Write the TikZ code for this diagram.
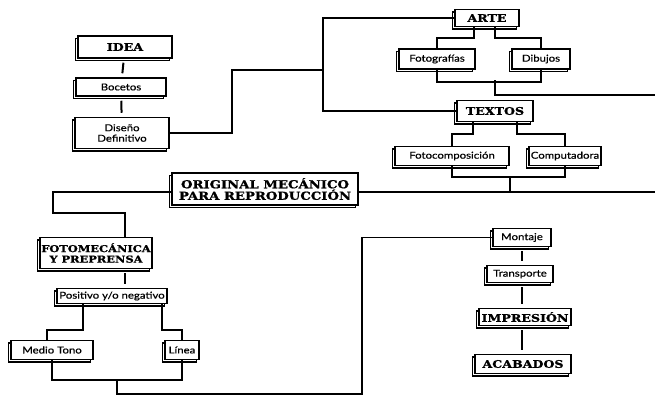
\documentclass[tikz,border=0pt]{standalone}
\usepackage{fontspec}
\setmainfont{Lato}
\newfontfamily\headfont[FakeStretch=1.2,FakeBold=1.2]{DejaVu Serif}
\newfontfamily\smallfont[FakeStretch=1.2,FakeBold=0.6]{Lato}
\usetikzlibrary{shadows,calc}
\begin{document}
\begin{tikzpicture}[x=1pt,y=-1pt,
  box/.style={draw=black, line width=1.5pt, fill=white, inner sep=1.5pt, align=center,
     font=\smallfont\fontsize{9.5}{10.5}\selectfont,
     copy shadow={shadow xshift=-2.5pt, shadow yshift=-2.5pt, draw=black, fill=white, line width=1.3pt}},
  head/.style={box, font=\headfont\bfseries\fontsize{10.5}{11}\selectfont},
  conn/.style={line width=1.6pt},
  tick/.style={line width=2pt, shorten <=4pt, shorten >=4pt}]
\useasboundingbox (0,0) rectangle (655,397);
\fill[white] (0,0) rectangle (655,397);

% left column
\node[head, minimum width=94, minimum height=22] (idea) at (125,47) {IDEA};
\node[box, minimum width=90, minimum height=18] (bocetos) at (121,87) {Bocetos};
\node[box, minimum width=94, minimum height=31] (diseno) at (122,133) {Diseño\\Definitivo};

% top right
\node[head, minimum width=64, minimum height=17] (arte) at (487,18) {ARTE};
\node[box, minimum width=76, minimum height=20] (foto) at (437,59) {Fotografías};
\node[box, minimum width=58, minimum height=20] (dibujos) at (541,59) {Dibujos};
\node[head, minimum width=76, minimum height=21] (textos) at (495,111) {TEXTOS};
\node[box, minimum width=114, minimum height=19] (fotocomp) at (452,156) {Fotocomposición};
\node[box, minimum width=72, minimum height=19] (compu) at (565,156) {Computadora};

% middle
\node[head, font=\headfont\bfseries\fontsize{11}{11.5}\selectfont, minimum width=186, minimum height=32] (original) at (265,189) {ORIGINAL MECÁNICO\\PARA REPRODUCCIÓN};
\node[head, font=\headfont\bfseries\fontsize{9.5}{10.5}\selectfont, minimum width=88, minimum height=31] (fotomec) at (96,253) {FOTOMECÁNICA\\Y PREPRENSA};
\node[box, minimum width=110, minimum height=15] (positivo) at (112,296) {Positivo y/o negativo};
\node[box, minimum width=82, minimum height=19] (medio) at (52,350) {Medio Tono};
\node[box, minimum width=34, minimum height=19] (linea) at (182,350) {Línea};

% bottom right
\node[box, minimum width=58, minimum height=18] (montaje) at (522,237.5) {Montaje};
\node[box, minimum width=66, minimum height=17] (transporte) at (520,274) {Transporte};
\node[head, minimum width=92, minimum height=17] (impresion) at (525,317) {IMPRESIÓN};
\node[head, minimum width=96, minimum height=19] (acabados) at (523,364) {ACABADOS};

% junctions
\coordinate (jA) at (232,70);
\coordinate (jB) at (323,70);
\coordinate (aj) at (495,80);
\coordinate (ae) at (655,95);
\coordinate (tj) at (510,176.5);
\coordinate (oe) at (655,192);
\coordinate (lj) at (53,213);
\coordinate (bj) at (117,379.5);
\coordinate (bk) at (117,394);
\coordinate (bl) at (362,300);

% connectors
\draw[tick] (idea) -- (bocetos);
\draw[tick] (bocetos) -- (diseno);
\draw[conn] (diseno.east) -| (jA) -- (jB);
\draw[conn] (arte.west) -| (jB) |- (textos.west);

\draw[conn] ([xshift=-13pt]arte.south) -- ++(0,11) -| (foto.north);
\draw[conn] ([xshift=8pt]arte.south) -- ++(0,11) -| (dibujos.north);
\draw[conn] (foto.south) -- ++(0,12) -| (dibujos.south);
\draw[conn] (aj) |- (ae);

\draw[conn] ([xshift=-22pt]textos.south) -- ++(0,12) -| (fotocomp.north);
\draw[conn] ([xshift=22pt]textos.south) -- ++(0,12) -| (compu.north);
\draw[conn] (fotocomp.south) -- ++(0,11) -| (compu.south);
\draw[conn] (tj) -- (tj |- oe);
\draw[conn] ([yshift=-3pt]original.east) -- (oe);

\draw[conn] ([yshift=-3pt]original.west) -| (lj) -| ([xshift=29pt]fotomec.north);
\draw[tick] ([xshift=29pt]fotomec.south) -- ([xshift=13pt]positivo.north);
\draw[conn] ([xshift=-29pt]positivo.south) -- ++(0,26) -| ([xshift=-5pt]medio.north);
\draw[conn] ([xshift=50pt]positivo.south) -- ++(0,26) -| (linea.north);
\draw[conn] (medio.south) -- ++(0,20) -| (linea.south);
\draw[conn] (bj) -- (bk) -| (bl) |- (montaje.west);

\draw[tick] (montaje.south) -- (montaje.south |- transporte.north);
\draw[tick] (transporte.south -| montaje.south) -- (montaje.south |- impresion.north);
\draw[tick] (impresion.south -| montaje.south) -- (montaje.south |- acabados.north);
\end{tikzpicture}
\end{document}
